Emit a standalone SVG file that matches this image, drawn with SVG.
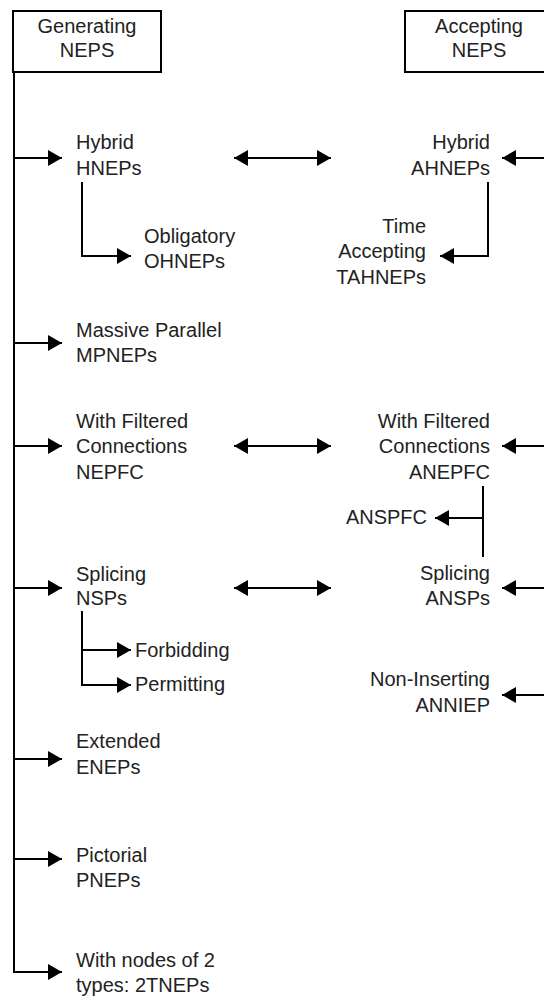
<svg xmlns="http://www.w3.org/2000/svg" width="544" height="997" viewBox="0 0 544 997">
<style>
text{font-family:"Liberation Sans",Arial,sans-serif;font-size:20px;fill:#222}
.l{text-anchor:start}.r{text-anchor:end}.c{text-anchor:middle}
.ln{fill:none;stroke:#000;stroke-width:2}
.box{fill:#fff;stroke:#000;stroke-width:2}
</style>
<defs>
<marker id="ah" viewBox="0 0 14 16" refX="14" refY="8" markerWidth="14" markerHeight="16" markerUnits="userSpaceOnUse" orient="auto-start-reverse">
<path d="M0,0 L14,8 L0,16 z" fill="#000"/>
</marker>
</defs>
<rect width="544" height="997" fill="#fff"/>
<g id="connectors">
<path class="ln" d="M14,72 V972 H62" marker-end="url(#ah)"/>
<path class="ln" d="M14,158 H62" marker-end="url(#ah)"/>
<path class="ln" d="M14,343 H62" marker-end="url(#ah)"/>
<path class="ln" d="M14,446 H62" marker-end="url(#ah)"/>
<path class="ln" d="M14,588 H62" marker-end="url(#ah)"/>
<path class="ln" d="M14,759 H62" marker-end="url(#ah)"/>
<path class="ln" d="M14,859 H62" marker-end="url(#ah)"/>
<path class="ln" d="M82,182 V256 H131" marker-end="url(#ah)"/>
<path class="ln" d="M82,611 V685 H131" marker-end="url(#ah)"/>
<path class="ln" d="M82,650 H131" marker-end="url(#ah)"/>
<path class="ln" d="M234,158 H331" marker-start="url(#ah)" marker-end="url(#ah)"/>
<path class="ln" d="M234,446 H331" marker-start="url(#ah)" marker-end="url(#ah)"/>
<path class="ln" d="M234,588 H331" marker-start="url(#ah)" marker-end="url(#ah)"/>
<path class="ln" d="M546,158 H502" marker-end="url(#ah)"/>
<path class="ln" d="M546,446 H502" marker-end="url(#ah)"/>
<path class="ln" d="M546,588 H502" marker-end="url(#ah)"/>
<path class="ln" d="M546,695 H502" marker-end="url(#ah)"/>
<path class="ln" d="M488,182 V256 H440" marker-end="url(#ah)"/>
<path class="ln" d="M483,486 V557"/>
<path class="ln" d="M483,518 H435" marker-end="url(#ah)"/>
</g>
<g id="generating">
<rect class="box" x="13" y="11" width="148" height="61"/>
<text class="c" x="87" y="33">Generating</text>
<text class="c" x="87" y="57">NEPS</text>
</g>
<g id="accepting">
<rect class="box" x="405" y="11" width="148" height="61"/>
<text class="c" x="479" y="33">Accepting</text>
<text class="c" x="479" y="57">NEPS</text>
</g>
<g id="hneps"><text class="l" x="76" y="149">Hybrid</text><text class="l" x="76" y="175">HNEPs</text></g>
<g id="ohneps"><text class="l" x="144" y="243">Obligatory</text><text class="l" x="144" y="268">OHNEPs</text></g>
<g id="mpneps"><text class="l" x="76" y="337">Massive Parallel</text><text class="l" x="76" y="362">MPNEPs</text></g>
<g id="nepfc"><text class="l" x="76" y="428">With Filtered</text><text class="l" x="76" y="453">Connections</text><text class="l" x="76" y="479">NEPFC</text></g>
<g id="nsps"><text class="l" x="76" y="581">Splicing</text><text class="l" x="76" y="605">NSPs</text></g>
<g id="forbidding"><text class="l" x="135" y="657">Forbidding</text></g>
<g id="permitting"><text class="l" x="135" y="691">Permitting</text></g>
<g id="eneps"><text class="l" x="76" y="748">Extended</text><text class="l" x="76" y="774">ENEPs</text></g>
<g id="pneps"><text class="l" x="76" y="862">Pictorial</text><text class="l" x="76" y="887">PNEPs</text></g>
<g id="2tneps"><text class="l" x="76" y="967">With nodes of 2</text><text class="l" x="76" y="992">types: 2TNEPs</text></g>
<g id="ahneps"><text class="r" x="490" y="149">Hybrid</text><text class="r" x="490" y="175">AHNEPs</text></g>
<g id="tahneps"><text class="r" x="426" y="233">Time</text><text class="r" x="426" y="258">Accepting</text><text class="r" x="426" y="284">TAHNEPs</text></g>
<g id="anepfc"><text class="r" x="490" y="428">With Filtered</text><text class="r" x="490" y="453">Connections</text><text class="r" x="490" y="479">ANEPFC</text></g>
<g id="anspfc"><text class="r" x="427" y="524">ANSPFC</text></g>
<g id="ansps"><text class="r" x="490" y="580">Splicing</text><text class="r" x="490" y="605">ANSPs</text></g>
<g id="anniep"><text class="r" x="490" y="686">Non-Inserting</text><text class="r" x="490" y="712">ANNIEP</text></g>
</svg>
